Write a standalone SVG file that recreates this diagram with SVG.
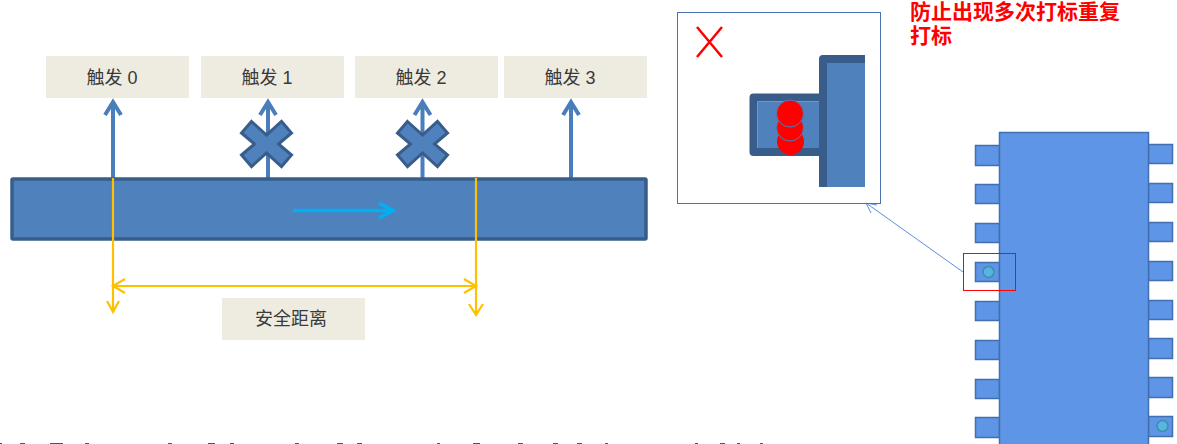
<svg xmlns="http://www.w3.org/2000/svg" width="1177" height="444" viewBox="0 0 1177 444">
<style>
.lbl{fill:#eeece1}
.lt{font-family:"Liberation Sans","Noto Sans CJK SC",sans-serif;font-size:18px;fill:#3a3a3a;text-anchor:middle}
.red{font-family:"Noto Sans CJK SC",sans-serif;font-size:21px;font-weight:700;fill:#ff0000}
.bar{fill:#4f81bd;stroke:#385d8a;stroke-width:3.5}
.up{fill:none;stroke:#4a7ebb;stroke-width:4;stroke-linejoin:miter}
.cross{fill:#4f81bd;stroke:#385d8a;stroke-width:3}
.y{fill:none;stroke:#ffc000;stroke-width:2.2}
.pad{fill:#5e95e6;stroke:#416fb0;stroke-width:1.5}
.dot{fill:#56b6e0;stroke:#3e8ea8;stroke-width:1.5}
</style>
<defs>
<path id="x" d="M-15-22.500 0-9 15-22.500 25-11 12 0 25 11 15 22.500 0 9-15 22.500-25 11-12 0-25-11Z"/>
</defs>
<g id="connectors">
<path class="up" d="M113 178V102M105 115 113 102 121 115"/>
<path class="up" d="M268 178V102M260 115 268 102 276 115"/>
<path class="up" d="M422.500 178V102M414.500 115 422.500 102 430.500 115"/>
<path class="up" d="M571 178V102M563 115 571 102 579 115"/>
</g>
<g id="bar"><rect class="bar" x="12" y="179" width="634" height="60" rx="1"/></g>
<g id="connectors-over">
<path d="M293 210.500H393M379 203 393 210.500 379 218" fill="none" stroke="#00b0f0" stroke-width="3.500"/>
<path class="y" d="M113 178V312M107 301 113 312 119 301"/>
<path class="y" d="M476 178V315M469 304 476 315 483 304"/>
<path class="y" d="M113 286H476M125 279 113 286 125 293M464 279 476 286 464 293"/>
<path d="M963 272 866 203M871 213 866 203 877 205" fill="none" stroke="#5b8fd8" stroke-width="1"/>
</g>
<g id="cross1"><use href="#x" class="cross" x="266.500" y="144"/></g>
<g id="cross2"><use href="#x" class="cross" x="422.500" y="144"/></g>
<g id="trigger0"><rect class="lbl" x="46" y="56" width="143" height="42"/><text class="lt" x="112" y="84">触发 0</text></g>
<g id="trigger1"><rect class="lbl" x="201" y="56" width="143" height="42"/><text class="lt" x="267" y="84">触发 1</text></g>
<g id="trigger2"><rect class="lbl" x="355" y="56" width="143" height="42"/><text class="lt" x="421" y="84">触发 2</text></g>
<g id="trigger3"><rect class="lbl" x="504" y="56" width="143" height="42"/><text class="lt" x="570" y="84">触发 3</text></g>
<g id="safe"><rect class="lbl" x="222" y="298" width="143" height="42"/><text class="lt" x="291" y="325">安全距离</text></g>
<g id="inset">
<rect x="677.500" y="12.500" width="203" height="191" fill="#fff" stroke="#4a72b0" stroke-width="1"/>
<path d="M697 27 722 57M722 27 697 57" fill="none" stroke="#ff0000" stroke-width="2.500"/>
<path d="M865 59H823V187M823 97.500H753.500V152H823" fill="none" stroke="#385d8a" stroke-width="8" stroke-linejoin="round"/>
<rect x="757.500" y="101.500" width="61.500" height="46.500" fill="#4f81bd"/>
<rect x="827" y="63" width="38" height="124" fill="#4f81bd"/>
<circle cx="790.500" cy="141.500" r="13.500" fill="#ff0000"/>
<circle cx="790" cy="127.500" r="13.500" fill="#ff0000" stroke="#4a7ebb"/>
<circle cx="790" cy="113.500" r="13.500" fill="#ff0000" stroke="#4a7ebb"/>
</g>
<g id="note">
<text class="red" x="910" y="18.500">防止出现多次打标重复</text>
<text class="red" x="910" y="43">打标</text>
</g>
<g id="chip">
<rect class="pad" x="975.500" y="145.500" width="24" height="20"/>
<rect class="pad" x="975.500" y="184.500" width="24" height="19"/>
<rect class="pad" x="975.500" y="223.500" width="24" height="19"/>
<rect class="pad" x="975.500" y="262.500" width="24" height="19"/>
<rect class="pad" x="975.500" y="301.500" width="24" height="19"/>
<rect class="pad" x="975.500" y="340.500" width="24" height="19"/>
<rect class="pad" x="975.500" y="379.500" width="24" height="19"/>
<rect class="pad" x="975.500" y="417.500" width="24" height="20"/>
<rect class="pad" x="1148.500" y="144.500" width="24" height="19"/>
<rect class="pad" x="1148.500" y="183.500" width="24" height="19"/>
<rect class="pad" x="1148.500" y="222.500" width="24" height="19"/>
<rect class="pad" x="1148.500" y="261.500" width="24" height="19"/>
<rect class="pad" x="1148.500" y="300.500" width="24" height="19"/>
<rect class="pad" x="1148.500" y="338.500" width="24" height="20"/>
<rect class="pad" x="1148.500" y="377.500" width="24" height="20"/>
<rect class="pad" x="1148.500" y="416.500" width="24" height="20"/>
<rect class="pad" x="999.500" y="132.500" width="149" height="320"/>
<circle class="dot" cx="988.500" cy="272" r="5.500"/>
<circle class="dot" cx="1162.500" cy="426" r="5.500"/>
<rect x="963.500" y="253.500" width="52" height="37" fill="none" stroke="#ff0000" stroke-width="1"/>
</g>
<path id="page-edge-marks" d="M0 443.500h2M20 443.500h5M50 443.500h13M85 443.500h4M168 443.500h4M208 443.500h7M230 443.500h4M295 443.500h4M337 443.500h6M357 443.500h5M437 443.500h3M473 443.500h7M518 443.500h5M553 443.500h5M577 443.500h5M605 443.500h3M695 443.500h3M720 443.500h5M737 443.500h3M760 443.500h3" fill="none" stroke="#555" stroke-width="1"/>
</svg>
